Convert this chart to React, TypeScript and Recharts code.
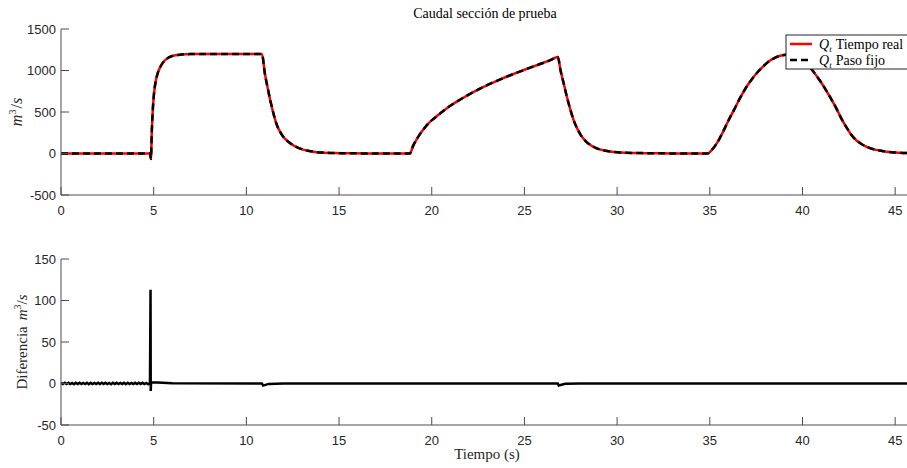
import { LineChart, Line, XAxis, YAxis } from "recharts";

// caudal en la sección de prueba (m^3/s)
const tiempo = [
  0, 4.8, 4.85, 4.9, 4.95, 5.0, 5.1, 5.2, 5.35, 5.5, 5.7, 6.0, 6.5, 7.0, 8, 9, 10, 10.84,
  11.0, 11.15, 11.3, 11.5, 11.65, 11.85, 12.0, 12.3, 12.55, 12.8, 13.1, 13.5, 13.8, 14.2, 14.7, 15.5, 16.5, 18,
  18.82, 19.0, 19.2, 19.4, 19.6, 19.85, 20.1, 20.5, 21.0, 21.5, 21.9, 22.4, 22.8, 23.3, 23.7, 24.2, 24.6, 25.1,
  25.5, 26.0, 26.4, 26.8, 26.95, 27.1, 27.25, 27.4, 27.55, 27.7, 27.85, 28.05, 28.3, 28.6, 28.9, 29.3, 29.7,
  30.0, 30.5, 31.0, 31.8, 33, 34.88, 35.1, 35.4, 35.7, 36.0, 36.3, 36.5, 36.8, 37.0, 37.3, 37.6, 37.9, 38.1,
  38.4, 38.8, 39.1, 39.3, 39.6, 39.9, 40.2, 40.5, 40.8, 41.0, 41.3, 41.5, 41.8, 42.1, 42.4, 42.6, 42.9, 43.2,
  43.5, 43.9, 44.3, 44.8, 45.2, 45.8,
];
const qTiempoReal = [
  0, 0, -65, 277, 520, 680, 860, 955, 1040, 1095, 1140, 1175, 1192, 1198, 1200, 1200, 1200, 1200,
  960, 790, 630, 450, 340, 250, 198, 135, 96, 68, 44, 27, 16, 10, 5, 3, 1, 0,
  0, 95, 175, 245, 305, 370, 418, 490, 575, 645, 698, 758, 803, 855, 894, 940, 975, 1017,
  1050, 1090, 1125, 1162, 1000, 860, 720, 590, 475, 375, 300, 218, 150, 96, 62, 36, 22,
  16, 10, 6, 4, 1, 0, 40, 130, 255, 395, 522, 612, 735, 810, 905, 985, 1052, 1095,
  1140, 1178, 1190, 1193, 1180, 1142, 1085, 1012, 922, 859, 752, 675, 555, 420, 305, 235, 160, 112,
  78, 47, 30, 16, 10, 5,
];
// la simulación de paso fijo se superpone a la de tiempo real
const qPasoFijo = qTiempoReal;

// diferencia entre ambas simulaciones
const tiempoDif = [
  0, 0.1, 0.2, 0.3, 0.4, 0.5, 0.6, 0.7, 0.8, 0.9, 1.0, 1.1, 1.2, 1.3, 1.4, 1.5, 1.6, 1.7, 1.8, 1.9,
  2.0, 2.1, 2.2, 2.3, 2.4, 2.5, 2.6, 2.7, 2.8, 2.9, 3.0, 3.1, 3.2, 3.3, 3.4, 3.5, 3.6, 3.7, 3.8, 3.9,
  4.0, 4.1, 4.2, 4.3, 4.4, 4.5, 4.6, 4.7, 4.8, 4.83, 4.84, 4.86, 5.2, 6.0,
  10.84, 10.9, 11.2, 12, 26.8, 26.85, 27.2, 28, 45.8,
];
const diferencia = [
  0.8, -0.6, 0.9, -0.7, 0.8, -0.6, 0.7, -0.8, 0.9, -0.6, 0.8, -0.7, 0.7, -0.6, 0.9, -0.8, 0.8, -0.6, 0.7, -0.7,
  0.8, -0.6, 0.9, -0.7, 0.8, -0.6, 0.7, -0.8, 0.9, -0.6, 0.8, -0.7, 0.7, -0.6, 0.9, -0.8, 0.8, -0.6, 0.7, -0.7,
  0.8, -0.6, 0.9, -0.7, 0.8, -0.6, 0.7, -0.8, 0.8, 113, -9, 1.5, 1.2, 0.4,
  0, -2.5, -0.5, 0, 0, -2.5, -0.3, 0, 0,
];

const xTicks = [0, 5, 10, 15, 20, 25, 30, 35, 40, 45];
const qTicks = [-500, 0, 500, 1000, 1500];
const difTicks = [-50, 0, 50, 100, 150];

const caudalData = tiempo.map((t, i) => ({ t, real: qTiempoReal[i], fijo: qPasoFijo[i] }));
const difData = tiempoDif.map((t, i) => ({ t, dif: diferencia[i] }));

const axisColor = "#4d4d4d";
const tickStyle = { fill: "#262626", fontSize: 13, fontFamily: "Liberation Sans" };
const serif = "Liberation Serif";
const xDomain = [0, 45.8];

export default function App() {
  return (
    <div style={{ position: "absolute", left: 0, top: 0, width: 907, height: 468, overflow: "hidden", background: "#fff" }}>
      <div style={{ position: "absolute", left: 0, top: 0 }}>
        <LineChart width={912} height={232} data={caudalData} margin={{ top: 29, right: 2, left: 0, bottom: 0 }}>
          <XAxis dataKey="t" type="number" domain={xDomain} ticks={xTicks} interval={0} height={37}
            tickSize={-8} tickMargin={19} stroke={axisColor} tick={tickStyle} />
          <XAxis xAxisId="top" orientation="top" type="number" domain={xDomain} ticks={xTicks} interval={0}
            height={0} tickSize={-8} tick={false} stroke={axisColor} />
          <YAxis type="number" domain={[-500, 1500]} ticks={qTicks} interval={0} width={61}
            tickSize={-8} tickMargin={13} stroke={axisColor} tick={tickStyle} />
          <YAxis yAxisId="right" orientation="right" type="number" domain={[-500, 1500]} ticks={qTicks}
            interval={0} width={0} tickSize={-8} tick={false} stroke={axisColor} />
          <Line dataKey="real" type="monotone" stroke="#ff0000" strokeWidth={2.5} dot={false} isAnimationActive={false} />
          <Line dataKey="fijo" type="monotone" stroke="#000000" strokeWidth={2.5} strokeDasharray="7 4" dot={false} isAnimationActive={false} />
        </LineChart>
      </div>
      <div style={{ position: "absolute", left: 0, top: 232 }}>
        <LineChart width={912} height={236} data={difData} margin={{ top: 27, right: 2, left: 0, bottom: 0 }}>
          <XAxis dataKey="t" type="number" domain={xDomain} ticks={xTicks} interval={0} height={43}
            tickSize={-8} tickMargin={19} stroke={axisColor} tick={tickStyle} />
          <XAxis xAxisId="top" orientation="top" type="number" domain={xDomain} ticks={xTicks} interval={0}
            height={0} tickSize={-8} tick={false} stroke={axisColor} />
          <YAxis type="number" domain={[-50, 150]} ticks={difTicks} interval={0} width={61}
            tickSize={-8} tickMargin={13} stroke={axisColor} tick={tickStyle} />
          <YAxis yAxisId="right" orientation="right" type="number" domain={[-50, 150]} ticks={difTicks}
            interval={0} width={0} tickSize={-8} tick={false} stroke={axisColor} />
          <Line dataKey="dif" type="linear" stroke="#000000" strokeWidth={2.5} dot={false} isAnimationActive={false} />
        </LineChart>
      </div>
      <svg width={907} height={468} style={{ position: "absolute", left: 0, top: 0, pointerEvents: "none" }}>
        <text x={485} y={18} textAnchor="middle" fontFamily={serif} fontSize={14} fill="#000">
          Caudal sección de prueba
        </text>
        <text transform="translate(22,112) rotate(-90)" textAnchor="middle" fontFamily={serif} fontSize={16} fill="#262626">
          <tspan fontStyle="italic">m</tspan>
          <tspan dy={-6} fontSize={10}>3</tspan>
          <tspan dy={6} dx={1}>/</tspan>
          <tspan fontStyle="italic">s</tspan>
        </text>
        <text transform="translate(27,342) rotate(-90)" textAnchor="middle" fontFamily={serif} fontSize={15} fill="#262626">
          Diferencia
          <tspan dx={6} fontStyle="italic">m</tspan>
          <tspan dy={-6} fontSize={10}>3</tspan>
          <tspan dy={6}>/</tspan>
          <tspan fontStyle="italic">s</tspan>
        </text>
        <text x={487} y={459} textAnchor="middle" fontFamily={serif} fontSize={15} fill="#262626">
          Tiempo (s)
        </text>
        <rect x={786} y={35} width={130} height={34} fill="#fff" stroke="#262626" strokeWidth={1} />
        <line x1={790} x2={812} y1={44} y2={44} stroke="#ff0000" strokeWidth={2.5} />
        <text x={819} y={48.5} fontFamily={serif} fontSize={14} fill="#000">
          <tspan fontStyle="italic">Q</tspan>
          <tspan dy={3} fontSize={9} fontStyle="italic">t</tspan>
          <tspan dy={-3} dx={4}>Tiempo real</tspan>
        </text>
        <line x1={790} x2={812} y1={60} y2={60} stroke="#000" strokeWidth={2.5} strokeDasharray="7 4" />
        <text x={819} y={64.5} fontFamily={serif} fontSize={14} fill="#000">
          <tspan fontStyle="italic">Q</tspan>
          <tspan dy={3} fontSize={9} fontStyle="italic">t</tspan>
          <tspan dy={-3} dx={4}>Paso fijo</tspan>
        </text>
      </svg>
    </div>
  );
}
